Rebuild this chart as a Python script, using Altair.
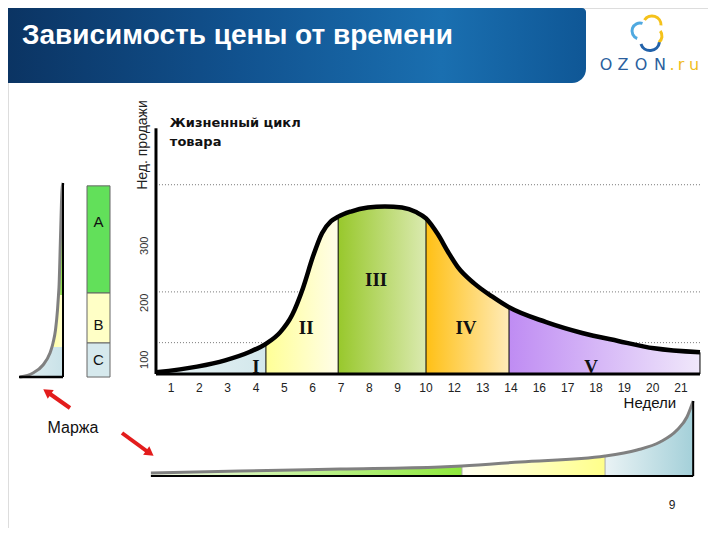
import altair as alt
import pandas as pd

# ---------------- data ----------------
week_labels = ["1", "2", "3", "4", "5", "6", "7", "8", "9", "10",
               "12", "13", "14", "16", "17", "18", "19", "20", "21"]

# product life cycle: position on the week axis, weekly sales
lc_pos = [-0.53, 0.92, 1.91, 2.79, 3.35, 3.85, 4.27, 4.66, 5.01, 5.33, 5.65,
          5.90, 6.35, 6.95, 7.55, 8.15, 8.65, 9.00, 9.42, 9.78, 10.13, 10.70,
          11.33, 11.93, 13.24, 14.51, 15.78, 17.05, 18.67]
lc_sales = [78, 88, 99, 114, 128, 148, 178, 226, 281, 322, 343,
            351, 360, 367, 369, 367, 359, 348, 320, 289, 262, 234,
            211, 192, 166, 147, 133, 120, 113]
sales_floor = 75
sales_top = 506
phase_names = ["I", "II", "III", "IV", "V"]
phase_bounds = [-0.53, 3.35, 5.90, 9.00, 11.93, 18.67]
phase_bound_top = [128, 351, 348, 192, 113]
phase_label_pos = [3.0, 4.77, 7.24, 10.41, 14.83]
phase_label_sales = [87, 156, 240, 156, 87]
grid_sales = [79, 130, 219, 407]
ytick_vals = [100, 200, 300]

# left margin chart (margin vs. sales)
lm_margin = [1, 14, 24, 31, 33, 34, 36.5, 38.5, 39.5, 40, 41.5, 43, 44]
lm_sales = [69.7, 76.8, 90.8, 111.8, 122.4, 129.4, 152.2, 187.3, 213.6,
            227.6, 315.3, 397.7, 410]
lm_band_edges = [69.7, 122.4, 213.6, 410]

# ABC classes
abc_names = ["A", "B", "C"]
abc_top = [405, 217, 129.4]
abc_bottom = [217, 129.4, 69.7]
abc_label_sales = [341, 161, 99.6]

# bottom margin chart (margin vs. week position)
bm_pos = [-0.71, 2.44, 5.97, 9.50, 10.27, 12.32, 15.32, 16.45, 17.26,
          17.86, 18.21, 18.43]
bm_margin = [3, 5, 7, 9, 10, 14, 20, 26, 34, 46, 59, 75]
bm_bounds = [-0.71, 10.27, 15.32, 18.43]
bm_bound_top = [10, 20]

# ---------------- scales ----------------
MX = alt.Scale(domain=[0, 18], range=[163, 673], nice=False, zero=False)
MY = alt.Scale(domain=[75, 510], range=[366, 118], nice=False, zero=False)
LX = alt.Scale(domain=[0, 44], range=[11, 55], nice=False, zero=False)
BY = alt.Scale(domain=[0, 80], range=[468, 388], nice=False, zero=False)


def X(f, s):
    return alt.X(f, scale=s, axis=None)


def Y(f, s):
    return alt.Y(f, scale=s, axis=None)


def grad(c1, c2):
    return alt.Gradient(gradient="linear", x1=0, x2=1, y1=0, y2=0,
                        stops=[alt.GradientStop(color=c1, offset=0),
                               alt.GradientStop(color=c2, offset=1)])


one = pd.DataFrame({"k": [0]})
layers = []

# ---------------- header banner ----------------
banner_grad = alt.Gradient(
    gradient="linear", x1=0, x2=1, y1=0, y2=0,
    stops=[alt.GradientStop(color="#0b3463", offset=0),
           alt.GradientStop(color="#11528f", offset=0.4),
           alt.GradientStop(color="#1a6fb0", offset=0.75),
           alt.GradientStop(color="#0f5796", offset=1)])
layers.append(alt.Chart(one).mark_rect(color=banner_grad, cornerRadiusBottomRight=14,
                                       cornerRadiusTopRight=4).encode(
    x=alt.value(0), x2=alt.value(578), y=alt.value(0), y2=alt.value(75)))
layers.append(alt.Chart(one).mark_text(
    text="Зависимость цены от времени", font="Liberation Sans", fontSize=28,
    fontWeight="bold", color="white", align="left", baseline="alphabetic").encode(
    x=alt.value(14), y=alt.value(36)))

# OZON logo
cloud = [((632, 23), 8, 3.5, 6.6, "#4fa9e0"),
         ((644, 17), 9, 5.3, 7.9, "#f5c21b"),
         ((646, 28), 8, 0.9, 2.5, "#f5c21b"),
         ((642, 33), 9.5, 1.7, 4.4, "#2262aa")]
for (cx, cy), r, t1, t2, c in cloud:
    layers.append(alt.Chart(one).mark_arc(radius=r + 1.5, radius2=r - 1.5, theta=t1,
                                          theta2=t2, color=c).encode(
        x=alt.value(cx), y=alt.value(cy)))
logo_letters = [("O", 598, "#2b5f9e"), ("Z", 615, "#2b5f9e"), ("O", 633, "#2b5f9e"),
                ("N", 652, "#2b5f9e"), (".", 664, "#f0bd1c"), ("r", 673, "#f0bd1c"),
                ("u", 686, "#f0bd1c")]
for ch, lx, c in logo_letters:
    layers.append(alt.Chart(one).mark_text(text=ch, font="DejaVu Sans", fontSize=16,
                                           color=c, baseline="alphabetic").encode(
        x=alt.value(lx), y=alt.value(62)))

# ---------------- main chart ----------------
grid_df = pd.DataFrame({"sales": grid_sales, "x0": phase_bounds[0], "x1": phase_bounds[-1]})
layers.append(alt.Chart(grid_df).mark_rule(color="#777", strokeDash=[1, 2], strokeWidth=1).encode(
    x=X("x0:Q", MX), x2="x1:Q", y=Y("sales:Q", MY)))

curve_df = pd.DataFrame({"pos": lc_pos, "sales": lc_sales})
curve_df["base"] = sales_floor
phase_fill = [grad("#e8f3f5", "#d3e8ec"), grad("#ffff96", "#fffde8"),
              grad("#98c82c", "#dbeab0"), grad("#ffc015", "#ffebb8"),
              grad("#bf8cf3", "#f0e8fb")]
for i in range(5):
    seg = curve_df[(curve_df.pos >= phase_bounds[i] - 1e-6) & (curve_df.pos <= phase_bounds[i + 1] + 1e-6)]
    layers.append(alt.Chart(seg).mark_area(color=phase_fill[i], interpolate="monotone").encode(
        x=X("pos:Q", MX), y=Y("sales:Q", MY), y2="base:Q"))

bound_df = pd.DataFrame({"pos": phase_bounds[1:], "top": phase_bound_top, "base": sales_floor})
layers.append(alt.Chart(bound_df).mark_rule(color="black", strokeWidth=1).encode(
    x=X("pos:Q", MX), y=Y("base:Q", MY), y2="top:Q"))

layers.append(alt.Chart(curve_df).mark_line(color="black", strokeWidth=4.5, interpolate="monotone").encode(
    x=X("pos:Q", MX), y=Y("sales:Q", MY)))

axis_df = pd.DataFrame({"x0": [phase_bounds[0]], "x1": [phase_bounds[-1]],
                        "y0": [sales_floor], "y1": [sales_top]})
layers.append(alt.Chart(axis_df).mark_rule(color="black", strokeWidth=3).encode(
    x=X("x0:Q", MX), y=Y("y0:Q", MY), y2="y1:Q"))
layers.append(alt.Chart(axis_df).mark_rule(color="black", strokeWidth=3).encode(
    x=X("x0:Q", MX), x2="x1:Q", y=Y("y0:Q", MY)))

phase_df = pd.DataFrame({"pos": phase_label_pos, "sales": phase_label_sales, "name": phase_names})
layers.append(alt.Chart(phase_df).mark_text(font="Liberation Serif", fontWeight="bold",
                                            fontSize=19, color="#111", baseline="middle").encode(
    x=X("pos:Q", MX), y=Y("sales:Q", MY), text="name:N"))

tick_df = pd.DataFrame({"pos": list(range(len(week_labels))), "label": week_labels, "sales": 50.4})
layers.append(alt.Chart(tick_df).mark_text(font="Liberation Sans", fontSize=12, color="#222",
                                           baseline="middle").encode(
    x=X("pos:Q", MX), y=Y("sales:Q", MY), text="label:N"))

ytick_df = pd.DataFrame({"sales": ytick_vals, "pos": -0.92, "label": [str(v) for v in ytick_vals]})
layers.append(alt.Chart(ytick_df).mark_text(font="Liberation Sans", fontSize=11, color="#333",
                                            angle=270, baseline="middle").encode(
    x=X("pos:Q", MX), y=Y("sales:Q", MY), text="label:N"))

label_df = pd.DataFrame({"pos": [-0.98], "sales": [476.7], "t": ["Нед. продажи"]})
layers.append(alt.Chart(label_df).mark_text(font="Liberation Sans", fontSize=14, color="#222",
                                            angle=270, baseline="middle").encode(
    x=X("pos:Q", MX), y=Y("sales:Q", MY), text="t:N"))

wk_df = pd.DataFrame({"pos": [16.9], "sales": [24], "t": ["Недели"]})
layers.append(alt.Chart(wk_df).mark_text(font="Liberation Sans", fontSize=15, color="#111",
                                         baseline="middle").encode(
    x=X("pos:Q", MX), y=Y("sales:Q", MY), text="t:N"))

lc_title_df = pd.DataFrame({"pos": [-0.04, -0.04], "sales": [515, 482], "t": ["Жизненный цикл", "товара"]})
layers.append(alt.Chart(lc_title_df).mark_text(font="DejaVu Sans", fontWeight="bold", fontSize=13,
                                               color="#111", align="left", baseline="middle").encode(
    x=X("pos:Q", MX), y=Y("sales:Q", MY), text="t:N"))

# ---------------- left margin chart ----------------
lm_df = pd.DataFrame({"margin": lm_margin, "sales": lm_sales})
lm_df["axis"] = 44
lm_fill = [grad("#e2eff2", "#c9e2e8"), grad("#ffffa0", "#ffffd0"), grad("#a8e46c", "#86d848")]
for i in range(3):
    seg = lm_df[(lm_df.sales >= lm_band_edges[i] - 1e-6) & (lm_df.sales <= lm_band_edges[i + 1] + 1e-6)]
    layers.append(alt.Chart(seg).mark_area(color=lm_fill[i], orient="horizontal",
                                           interpolate="monotone").encode(
        x=X("margin:Q", LX), x2="axis:Q", y=Y("sales:Q", MY)))
layers.append(alt.Chart(lm_df).mark_line(color="#808080", strokeWidth=3, interpolate="monotone").encode(
    x=X("margin:Q", LX), y=Y("sales:Q", MY), order="sales:Q"))
lm_axis = pd.DataFrame({"m0": [0], "m1": [44], "s0": [lm_sales[0]], "s1": [lm_sales[-1]]})
layers.append(alt.Chart(lm_axis).mark_rule(color="black", strokeWidth=2).encode(
    x=X("m1:Q", LX), y=Y("s0:Q", MY), y2="s1:Q"))
layers.append(alt.Chart(lm_axis).mark_rule(color="black", strokeWidth=2.5).encode(
    x=X("m0:Q", LX), x2="m1:Q", y=Y("s0:Q", MY)))

# ABC bar
abc_df = pd.DataFrame({"name": abc_names, "top": abc_top, "bottom": abc_bottom,
                       "x0": 68, "x1": 91, "ls": abc_label_sales, "lx": 79.5})
layers.append(alt.Chart(abc_df).mark_rect(stroke="#666", strokeWidth=1).encode(
    x=X("x0:Q", LX), x2="x1:Q", y=Y("bottom:Q", MY), y2="top:Q",
    color=alt.Color("name:N", scale=alt.Scale(domain=abc_names,
                                              range=["#62e05a", "#ffffc6", "#d6e9ed"]), legend=None)))
layers.append(alt.Chart(abc_df).mark_text(font="Liberation Sans", fontSize=15, color="#111",
                                          baseline="middle").encode(
    x=X("lx:Q", LX), y=Y("ls:Q", MY), text="name:N"))

# ---------------- bottom margin chart ----------------
bm_df = pd.DataFrame({"pos": bm_pos, "margin": bm_margin})
bm_df["base"] = 0
bm_fill = [grad("#f4fbea", "#8ee83c"), grad("#fffff2", "#ffff8a"), grad("#eaf3f5", "#a4d0d9")]
for i in range(3):
    seg = bm_df[(bm_df.pos >= bm_bounds[i] - 1e-6) & (bm_df.pos <= bm_bounds[i + 1] + 1e-6)]
    layers.append(alt.Chart(seg).mark_area(color=bm_fill[i], interpolate="monotone").encode(
        x=X("pos:Q", MX), y=Y("margin:Q", BY), y2="base:Q"))
bm_sep = pd.DataFrame({"pos": bm_bounds[1:3], "top": bm_bound_top, "base": 0})
layers.append(alt.Chart(bm_sep).mark_rule(color="#aaa", strokeWidth=1).encode(
    x=X("pos:Q", MX), y=Y("base:Q", BY), y2="top:Q"))
layers.append(alt.Chart(bm_df).mark_line(color="#808080", strokeWidth=3, interpolate="monotone").encode(
    x=X("pos:Q", MX), y=Y("margin:Q", BY)))
bm_axis = pd.DataFrame({"p0": [bm_pos[0]], "p1": [bm_pos[-1]], "m0": [0], "m1": [bm_margin[-1]]})
layers.append(alt.Chart(bm_axis).mark_rule(color="black", strokeWidth=2).encode(
    x=X("p0:Q", MX), x2="p1:Q", y=Y("m0:Q", BY)))
layers.append(alt.Chart(bm_axis).mark_rule(color="black", strokeWidth=2).encode(
    x=X("p1:Q", MX), y=Y("m0:Q", BY), y2="m1:Q"))

# ---------------- annotations ----------------
layers.append(alt.Chart(one).mark_text(text="Маржа", font="Liberation Sans", fontSize=16,
                                       color="#111", baseline="middle").encode(
    x=alt.value(65), y=alt.value(420)))
arrows = [((62, 400), (40, 384.5), (39, 383.8), 305),
          ((114, 425), (140, 444), (141.9, 445.1), 126)]
for (tx, ty), (ex, ey), (hx, hy), ang in arrows:
    layers.append(alt.Chart(one).mark_rule(color="#e31c1c", strokeWidth=4).encode(
        x=alt.value(tx), y=alt.value(ty), x2=alt.value(ex), y2=alt.value(ey)))
    layers.append(alt.Chart(one).mark_point(shape="triangle-up", filled=True, size=110,
                                            color="#e31c1c", opacity=1, angle=ang).encode(
        x=alt.value(hx), y=alt.value(hy)))
layers.append(alt.Chart(one).mark_text(text="9", font="Liberation Sans", fontSize=12,
                                       color="#222", baseline="middle").encode(
    x=alt.value(664), y=alt.value(497)))

chart = alt.layer(*layers).resolve_scale(
    x="independent", y="independent", color="independent"
).properties(
    width=700, height=520, padding=0, autosize=alt.AutoSizeParams(type="none")
).configure_view(strokeWidth=0).configure(background="white")

chart.save("out.html", embed_options={"renderer": "svg", "actions": False})
